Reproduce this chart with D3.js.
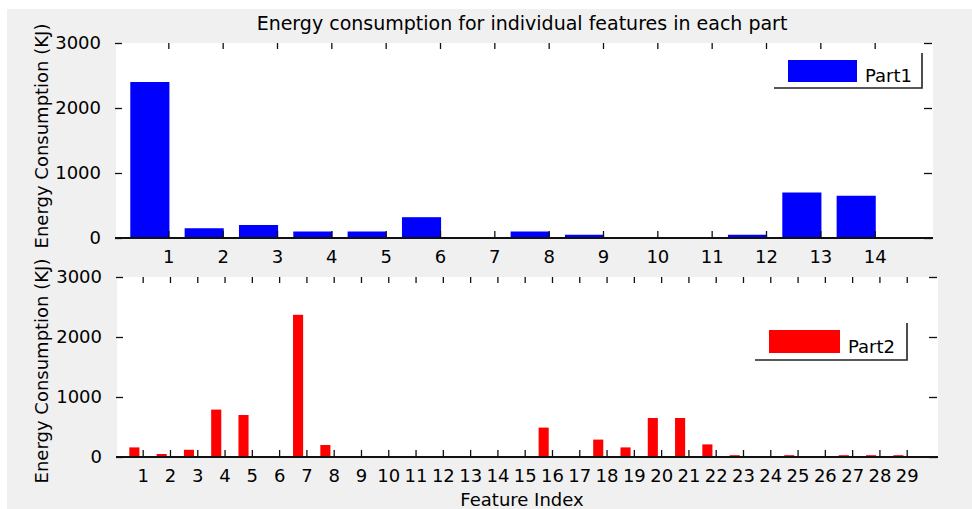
<!DOCTYPE html>
<html>
<head>
<meta charset="utf-8">
<script src="https://cdn.jsdelivr.net/npm/d3@7"></script>
<style>
  body { margin: 0; background: #fff; }
  svg text { font-family: 'DejaVu Sans', sans-serif; fill: #000; }
  .axis .domain { display: none; }
  .axis line { stroke: #111; stroke-width: 1.3; }
</style>
</head>
<body>
<script>
const width = 972
const height = 509

// data
const features1 = [1, 2, 3, 4, 5, 6, 7, 8, 9, 10, 11, 12, 13, 14]
const part1 = [2400, 150, 200, 100, 100, 320, 0, 100, 50, 0, 0, 50, 700, 650]

const features2 = [1, 2, 3, 4, 5, 6, 7, 8, 9, 10, 11, 12, 13, 14, 15,
  16, 17, 18, 19, 20, 21, 22, 23, 24, 25, 26, 27, 28, 29]
const part2 = [160, 50, 120, 790, 700, 0, 2370, 200, 0, 0, 0, 0, 0, 0, 0,
  490, 0, 290, 160, 650, 650, 210, 30, 0, 30, 0, 30, 30, 30]

const yTicks = [0, 1000, 2000, 3000]
const seriesNames = ['Part1', 'Part2']

const svg = d3.select('body')
  .append('svg')
  .attr('width', width)
  .attr('height', height)

// figure background
svg.append('rect')
  .attr('x', 7).attr('y', 9)
  .attr('width', width - 7).attr('height', height - 9)
  .attr('fill', '#f0f0f0')

svg.append('text')
  .attr('x', 522)
  .attr('y', 30)
  .attr('text-anchor', 'middle')
  .style('font-size', '19px')
  .text('Energy consumption for individual features in each part')

function drawPanel(p) {
  const x = d3.scaleLinear().domain(p.xDomain).range(p.xRange)
  const y = d3.scaleLinear().domain([0, 3000]).range([p.bottom, p.top])

  svg.append('rect')
    .attr('x', p.left).attr('y', p.top)
    .attr('width', p.right - p.left).attr('height', p.bottom - p.top)
    .attr('fill', '#fff')

  // bars (sit to the left of their tick like the original)
  svg.append('g')
    .selectAll('rect')
    .data(p.values)
    .enter()
    .append('rect')
    .attr('x', (d, i) => x(p.features[i] + p.barOffset[0]))
    .attr('width', (d, i) => x(p.features[i] + p.barOffset[1]) - x(p.features[i] + p.barOffset[0]))
    .attr('y', (d) => y(d))
    .attr('height', (d) => y(0) - y(d))
    .attr('fill', p.color)

  // baseline
  svg.append('line')
    .attr('x1', p.left - 1).attr('x2', p.right)
    .attr('y1', y(0)).attr('y2', y(0))
    .attr('stroke', '#111').attr('stroke-width', 2)

  // x axis with labels, ticks pointing in
  const xb = svg.append('g')
    .attr('class', 'axis')
    .attr('transform', `translate(0, ${y(0)})`)
    .call(d3.axisBottom(x).tickValues(p.features).tickSizeInner(-7).tickSizeOuter(0).tickPadding(12))
  xb.selectAll('text').style('font-size', '18px').attr('fill', '#000')

  svg.append('g')
    .attr('class', 'axis')
    .attr('transform', `translate(0, ${p.top})`)
    .call(d3.axisTop(x).tickValues(p.features).tickSizeInner(-6).tickSizeOuter(0).tickFormat(''))

  const yl = svg.append('g')
    .attr('class', 'axis')
    .attr('transform', `translate(${p.left - 1}, 0)`)
    .call(d3.axisLeft(y).tickValues(yTicks).tickSizeInner(-7).tickSizeOuter(0).tickPadding(14).tickFormat(d3.format('d')))
  yl.selectAll('text').style('font-size', '18px').attr('fill', '#000')

  svg.append('g')
    .attr('class', 'axis')
    .attr('transform', `translate(${p.right - 1}, 0)`)
    .call(d3.axisRight(y).tickValues(yTicks).tickSizeInner(-8).tickSizeOuter(0).tickFormat(''))

  svg.append('text')
    .attr('transform', `translate(48, ${p.labelY}) rotate(-90)`)
    .attr('text-anchor', 'middle')
    .style('font-size', '18px')
    .text('Energy Consumption (KJ)')

  // legend
  const lg = p.legend
  svg.append('rect')
    .attr('x', lg.x).attr('y', lg.y)
    .attr('width', lg.sw).attr('height', lg.sh)
    .attr('fill', p.color)
  svg.append('text')
    .attr('x', lg.x + lg.sw + 8)
    .attr('y', lg.y + lg.sh)
    .style('font-size', '18px')
    .text(p.name)
  svg.append('path')
    .attr('d', `M${lg.bx0},${lg.by1}H${lg.bx1}V${lg.by0}`)
    .attr('fill', 'none')
    .attr('stroke', '#222')
    .attr('stroke-width', 1.6)
}

drawPanel({
  features: features1,
  values: part1,
  name: seriesNames[0],
  color: '#0000ff',
  left: 116, right: 933, top: 43, bottom: 238,
  xDomain: [0, 15], xRange: [114, 929],
  barOffset: [-0.7, 0.02],
  labelY: 136,
  legend: { x: 788, y: 60, sw: 69, sh: 22, bx0: 774, bx1: 922, by0: 53, by1: 88 }
})

drawPanel({
  features: features2,
  values: part2,
  name: seriesNames[1],
  color: '#ff0000',
  left: 117, right: 938, top: 277, bottom: 457,
  xDomain: [0, 30], xRange: [115.4, 934],
  barOffset: [-0.49, -0.12],
  labelY: 371,
  legend: { x: 769, y: 330, sw: 71, sh: 23, bx0: 755, bx1: 907, by0: 323, by1: 360 }
})

svg.append('text')
  .attr('x', 522)
  .attr('y', 506)
  .attr('text-anchor', 'middle')
  .style('font-size', '18px')
  .text('Feature Index')
</script>
</body>
</html>
